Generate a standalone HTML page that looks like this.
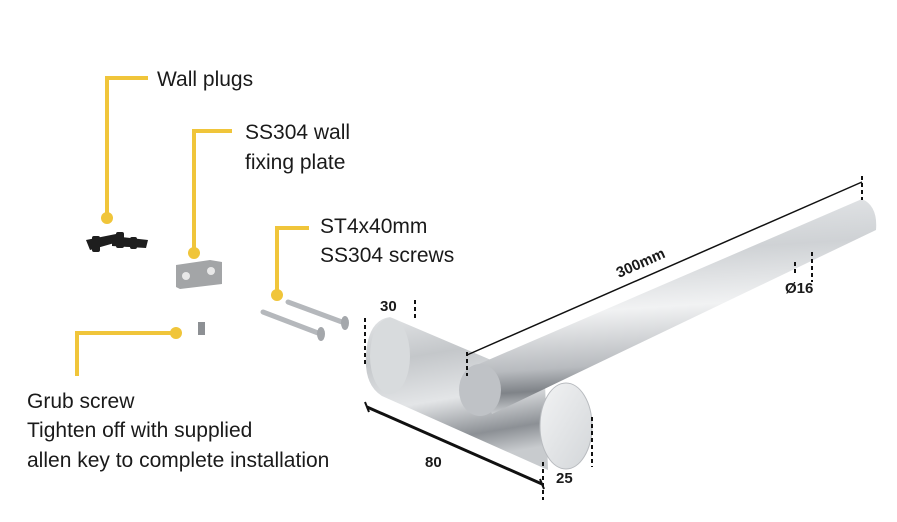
<!DOCTYPE html>
<html><head><meta charset="utf-8"><style>
html,body{margin:0;padding:0;background:#fff;}
svg{display:block}
.t{font-family:"Liberation Sans",sans-serif;font-size:21px;fill:#1a1a1a;}
.b{font-family:"Liberation Sans",sans-serif;font-size:15px;font-weight:bold;fill:#1a1a1a;}
</style></head><body>
<svg width="897" height="522" viewBox="0 0 897 522" xmlns="http://www.w3.org/2000/svg">
<defs>
<linearGradient id="rod" x1="0" y1="0" x2="0.12" y2="1">
<stop offset="0" stop-color="#e8eaec"/><stop offset="0.3" stop-color="#cfd2d5"/><stop offset="0.55" stop-color="#f1f2f3"/><stop offset="0.8" stop-color="#b8bbbf"/><stop offset="0.9" stop-color="#7f8388"/><stop offset="1" stop-color="#d0d3d6"/>
</linearGradient>
<linearGradient id="base" x1="0" y1="0" x2="0.2" y2="1">
<stop offset="0" stop-color="#e2e4e6"/><stop offset="0.3" stop-color="#c4c7ca"/><stop offset="0.6" stop-color="#e3e5e7"/><stop offset="0.85" stop-color="#8c9095"/><stop offset="1" stop-color="#c8cbce"/>
</linearGradient>
<linearGradient id="cap" x1="0" y1="0" x2="1" y2="1">
<stop offset="0" stop-color="#f2f3f4"/><stop offset="1" stop-color="#d3d6d9"/>
</linearGradient>
</defs>
<g stroke="#f0c53a" stroke-width="4" fill="none">
<polyline points="148,78 107,78 107,218"/>
<polyline points="232,131 194,131 194,253"/>
<polyline points="309,228 277,228 277,295"/>
<polyline points="176,333 77,333 77,376"/>
</g>
<g fill="#f0c53a">
<circle cx="107" cy="218" r="6"/><circle cx="194" cy="253" r="6"/><circle cx="277" cy="295" r="6"/><circle cx="176" cy="333" r="6"/>
</g>
<text class="t" x="157" y="86">Wall plugs</text>
<text class="t" x="245" y="139">SS304 wall</text>
<text class="t" x="245" y="169">fixing plate</text>
<text class="t" x="320" y="233">ST4x40mm</text>
<text class="t" x="320" y="262">SS304 screws</text>
<text class="t" x="27" y="408">Grub screw</text>
<text class="t" x="27" y="437">Tighten off with supplied</text>
<text class="t" x="27" y="467">allen key to complete installation</text>
<!-- wall plugs -->
<g fill="#1e1e1e">
<path d="M86,240 L116,234 L118,242 L90,250 Z"/><path d="M112,236 L148,240 L146,248 L112,246 Z"/>
<rect x="92" y="236" width="8" height="16" rx="2"/><rect x="116" y="232" width="8" height="16" rx="2"/><rect x="130" y="237" width="7" height="12" rx="2"/>
</g>
<!-- plate -->
<path d="M176,265 L210,260 L222,262 L222,284 L180,289 L176,287 Z" fill="#a3a5a7"/>
<circle cx="186" cy="276" r="4" fill="#e8e8e8"/><circle cx="211" cy="271" r="4" fill="#e8e8e8"/>
<rect x="198" y="322" width="7" height="13" fill="#8d9094"/>
<!-- screws -->
<g stroke="#b5b8bc" stroke-width="5" stroke-linecap="round">
<line x1="263" y1="312" x2="318" y2="333"/><line x1="288" y1="302" x2="342" y2="322"/>
</g>
<ellipse cx="321" cy="334" rx="4" ry="7" fill="#a4a7ab"/><ellipse cx="345" cy="323" rx="4" ry="7" fill="#a4a7ab"/>
<!-- base cylinder -->
<path d="M390,317 L545,383 L548,470 L382,396 Q364,385 366,355 Q368,320 390,317 Z" fill="url(#base)"/>
<ellipse cx="390" cy="356" rx="20" ry="38" fill="#d8dbdd"/>
<ellipse cx="566" cy="426" rx="26" ry="43" fill="url(#cap)" stroke="#b8bbbf" stroke-width="1"/>
<!-- rod -->
<path d="M472,367 L862,199 Q878,206 876,230 L492,414 Z" fill="url(#rod)"/>
<ellipse cx="480" cy="390" rx="21" ry="26" fill="#bfc2c6"/>
<!-- dimensions -->
<g stroke="#111" stroke-width="1.5" fill="none">
<line x1="467" y1="355" x2="862" y2="182"/>
<line x1="367" y1="407" x2="542" y2="484" stroke-width="3"/>
<line x1="365" y1="402" x2="369" y2="412" stroke-width="2"/><line x1="540" y1="479" x2="544" y2="489" stroke-width="2"/>
</g>
<g stroke="#111" stroke-width="2" stroke-dasharray="4,3">
<line x1="467" y1="352" x2="467" y2="376"/><line x1="862" y1="176" x2="862" y2="200"/>
<line x1="795" y1="262" x2="795" y2="276"/><line x1="812" y1="252" x2="812" y2="282"/>
<line x1="365" y1="318" x2="365" y2="366"/><line x1="415" y1="300" x2="415" y2="320"/>
<line x1="543" y1="462" x2="543" y2="500"/><line x1="592" y1="417" x2="592" y2="467"/>
</g>
<text class="b" x="0" y="0" transform="translate(619,278) rotate(-24)">300mm</text>
<text class="b" x="785" y="293">Ø16</text>
<text class="b" x="380" y="311">30</text>
<text class="b" x="425" y="467">80</text>
<text class="b" x="556" y="483">25</text>
</svg>
</body></html>
